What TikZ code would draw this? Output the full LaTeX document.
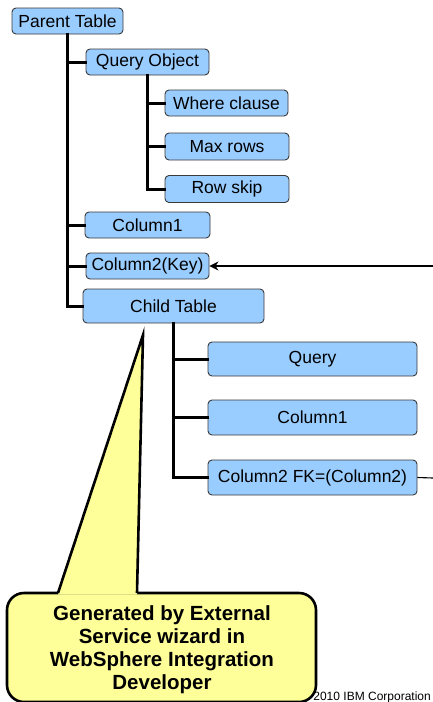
\documentclass[tikz,border=0pt]{standalone}
\usepackage{fontspec}
\setmainfont{Liberation Sans}
\usetikzlibrary{arrows.meta}
\definecolor{boxblue}{HTML}{99CCFF}
\definecolor{boxline}{HTML}{3A3A3A}
\definecolor{callyellow}{HTML}{FFFF99}
\begin{document}
\begin{tikzpicture}[x=1pt,y=-1pt,
  tbox/.style={draw=boxline,line width=0.9pt,fill=boxblue,rounded corners=4pt,
    inner sep=0pt,font=\fontsize{17.5}{20}\selectfont},
  trunk/.style={line width=3pt,line cap=rect},
  callout/.style={draw=black,line width=2.6pt,fill=callyellow},
]
\useasboundingbox (0,0) rectangle (433,702);

% tree nodes
\node[tbox,minimum width=111pt,minimum height=26pt] (parent) at (67.5,21) {Parent Table};
\node[tbox,minimum width=123pt,minimum height=26pt] (qo) at (147.5,62) {Query Object};
\node[tbox,minimum width=123pt,minimum height=26pt] (where) at (226.5,103) {Where clause};
\node[tbox,minimum width=124pt,minimum height=27pt] (maxrows) at (227,146.5) {Max rows};
\node[tbox,minimum width=124pt,minimum height=27pt] (rowskip) at (227,189) {Row skip};
\node[tbox,minimum width=125pt,minimum height=26pt] (pcol1) at (147.5,225) {Column1};
\node[tbox,minimum width=123pt,minimum height=26pt] (key) at (147.5,266) {Column2(Key)};
\node[tbox,minimum width=181pt,minimum height=34pt] (child) at (173.5,306) {Child Table};
\node[tbox,minimum width=209pt,minimum height=34pt] (query) at (312.5,359) {Query};
\node[tbox,minimum width=209pt,minimum height=35pt] (ccol1) at (312.5,417.5) {Column1};
\node[tbox,minimum width=209pt,minimum height=35pt] (fk) at (312.5,477.5) {Column2 FK=(Column2)};

% tree connectors
\draw[trunk] (parent.south) |- (child.west);
\draw[trunk] (parent.south |- qo.west) -- (qo.west);
\draw[trunk] (parent.south |- pcol1.west) -- (pcol1.west);
\draw[trunk] (parent.south |- key.west) -- (key.west);
\draw[trunk] (qo.south) |- (rowskip.west);
\draw[trunk] (qo.south |- where.west) -- (where.west);
\draw[trunk] (qo.south |- maxrows.west) -- (maxrows.west);
\draw[trunk] (child.south) |- (fk.west);
\draw[trunk] (child.south |- query.west) -- (query.west);
\draw[trunk] (child.south |- ccol1.west) -- (ccol1.west);

% external links
\coordinate (keysrc) at (433,266);
\coordinate (fkend) at (433,478);
\draw[line width=1.1pt,-{Stealth[length=9pt,width=9pt]}] (keysrc) -- (key.east);
\draw[line width=1.1pt] (fk.east) -- (fkend);

% footer
\node[anchor=base east,inner sep=0pt,font=\fontsize{12}{14}\selectfont] (corp) at (431,700) {2010 IBM Corporation};

% callout
\draw[callout,rounded corners=17pt] (7,593) rectangle (316,702);
\fill[callyellow] (58,594.5) -- (143,335) -- (137,594.5) -- cycle;
\draw[draw=black,line width=2.6pt,line join=miter] (58,593) -- (143,335) -- (137,593);
\node[inner sep=0pt,align=center,font=\bfseries\fontsize{20.5}{23}\selectfont] (note) at (162,650)
  {Generated by External\\Service wizard in\\WebSphere Integration\\Developer};
\end{tikzpicture}
\end{document}
